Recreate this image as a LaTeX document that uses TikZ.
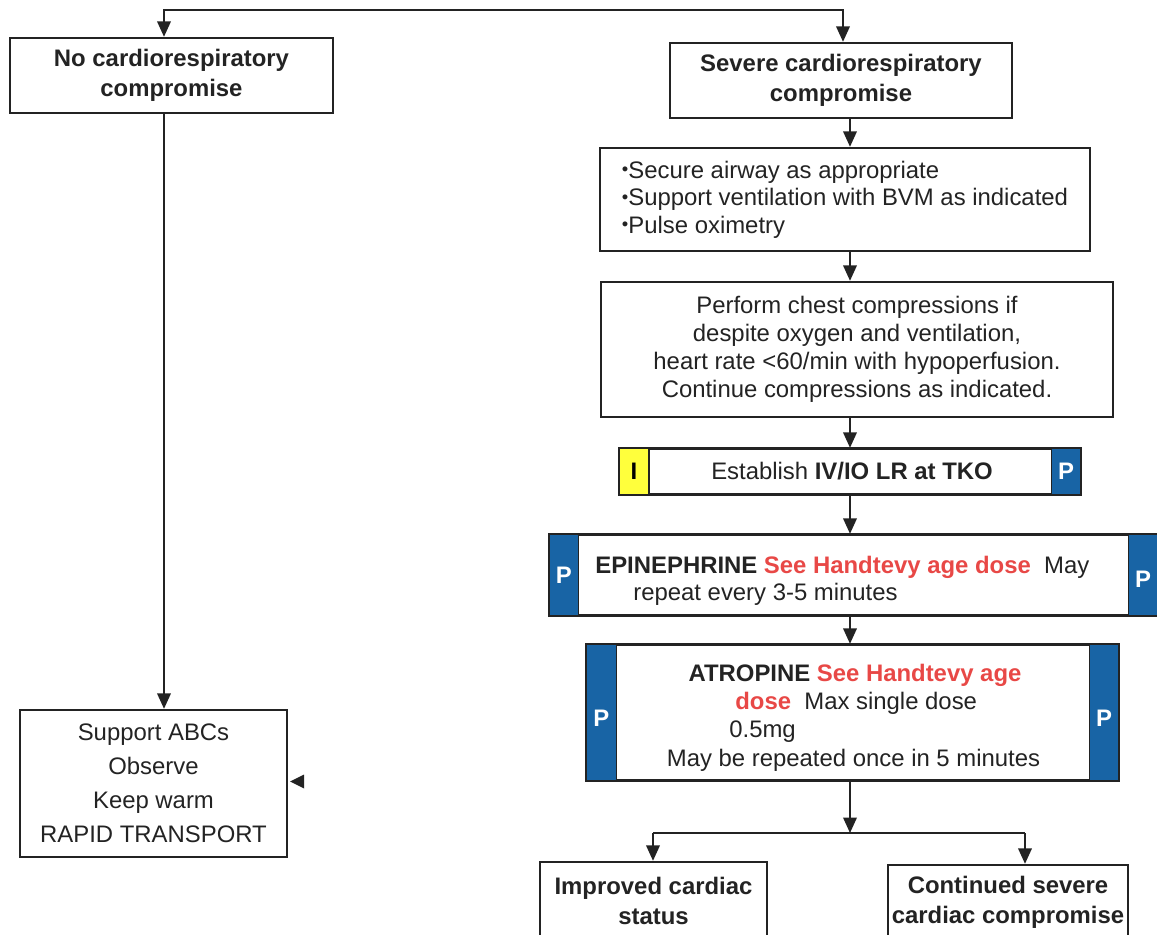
\documentclass[tikz,border=0pt]{standalone}
\usepackage{fontspec}
\setmainfont{Liberation Sans}
\usetikzlibrary{arrows.meta,calc}
\definecolor{pblue}{RGB}{24,100,165}
\definecolor{dosered}{RGB}{232,72,70}
\definecolor{ivyellow}{RGB}{255,255,60}
\definecolor{ink}{RGB}{35,35,35}
% small raised bullet for the list items
\newcommand{\itemdot}{\raisebox{1.3pt}{\fontsize{10.5}{10}\selectfont •}}

\begin{document}
\begin{tikzpicture}[x=0.02cm,y=-0.02cm,
  >={Triangle[length=3.1mm,width=2.7mm]},
  txt/.style={font=\fontsize{13.6}{16}\selectfont, text=ink},
  box/.style={draw=ink, line width=1.35pt, inner sep=0pt, align=center, txt},
  head/.style={font=\fontsize{13.6}{17}\selectfont\bfseries},
  flow/.style={draw=ink, line width=1.2pt, ->},
  wire/.style={draw=ink, line width=1.2pt},
  frame/.style={draw=ink, line width=1.35pt},
  ptab/.style={fill=pblue, draw=ink, line width=0.5pt},
  itab/.style={fill=ivyellow, draw=ink, line width=0.8pt},
  tabletter/.style={font=\fontsize{13.6}{16}\selectfont\bfseries, inner sep=0pt},
  line/.style={txt, inner sep=0pt},
]
\useasboundingbox (0,0) rectangle (1157,934);

% ---- boxes ----
\node[box, head, minimum width=6.46cm, minimum height=1.5cm] (noc) at (171.5,75.5)
  {No cardiorespiratory\\compromise};
\node[box, head, minimum width=6.84cm, minimum height=1.5cm] (sev) at (841,80.5)
  {Severe cardiorespiratory\\compromise};
\node[box, align=left, minimum width=9.8cm, minimum height=2.06cm,
      font=\fontsize{13.6}{15.6}\selectfont] (sup) at (845,199.5)
  {\itemdot Secure airway as appropriate\\\itemdot Support ventilation with BVM as indicated\\\itemdot Pulse oximetry};
\node[box, minimum width=10.24cm, minimum height=2.7cm,
      font=\fontsize{13.6}{15.9}\selectfont] (cpr) at (857,349.5)
  {Perform chest compressions if\\despite oxygen and ventilation,\\heart rate <60/min with hypoperfusion.\\Continue compressions as indicated.};
\node[box, minimum width=9.2cm, minimum height=0.9cm] (iv) at (850,471.5) {};
\node[box, minimum width=12.14cm, minimum height=1.6cm] (epi) at (853.5,575) {};
\node[box, minimum width=10.62cm, minimum height=2.7cm] (atr) at (852.5,712.5) {};
\node[box, minimum width=5.34cm, minimum height=2.94cm,
      font=\fontsize{13.6}{19.3}\selectfont] (abc) at (153.5,783.5)
  {Support ABCs\\Observe\\Keep warm\\RAPID TRANSPORT};
\node[box, head, minimum width=4.54cm, minimum height=1.56cm] (imp) at (653.5,901)
  {Improved cardiac\\status};
\node[box, head, minimum width=4.8cm, minimum height=1.5cm] (con) at (1008,902.5)
  {Continued severe\\cardiac compromise};

% ---- IV/IO box with provider tabs ----
\filldraw[itab] (iv.north west) rectangle ($(iv.south west)+(30,0)$);
\filldraw[ptab] ($(iv.north east)+(-30,0)$) rectangle (iv.south east);
\draw[frame] (iv.north west) rectangle (iv.south east);
\node[tabletter, text=black] (ivI) at ($(iv.west)+(15,0)$) {I};
\node[tabletter, text=white] (ivP) at ($(iv.east)+(-15,0)$) {P};
\node[line, anchor=base] (ivtext) at (852,479) {Establish \textbf{IV/IO LR at TKO}};

% ---- epinephrine box ----
\filldraw[ptab] (epi.north west) rectangle ($(epi.south west)+(30,0)$);
\filldraw[ptab] ($(epi.north east)+(-30,0)$) rectangle (epi.south east);
\draw[frame] (epi.north west) rectangle (epi.south east);
\node[tabletter, text=white] (epiPl) at ($(epi.west)+(15,0)$) {P};
\node[tabletter, text=white] (epiPr) at ($(epi.east)+(-15,4)$) {P};
\node[line, anchor=base west] (epi1) at (595,573)
  {\textbf{EPINEPHRINE} \textcolor{dosered}{\textbf{See Handtevy age dose}}\ \ May};
\node[line, anchor=base west] (epi2) at (633,600) {repeat every 3-5 minutes};

% ---- atropine box ----
\filldraw[ptab] (atr.north west) rectangle ($(atr.south west)+(31,0)$);
\filldraw[ptab] ($(atr.north east)+(-30,0)$) rectangle (atr.south east);
\draw[frame] (atr.north west) rectangle (atr.south east);
\node[tabletter, text=white] (atrPl) at ($(atr.west)+(15.5,6)$) {P};
\node[tabletter, text=white] (atrPr) at ($(atr.east)+(-15,6)$) {P};
\node[line, anchor=base] (atr1) at (855,681)
  {\textbf{ATROPINE} \textcolor{dosered}{\textbf{See Handtevy age}}};
\node[line, anchor=base west] (atr2) at (735,709)
  {\textcolor{dosered}{\textbf{dose}}\ \ Max single dose};
\node[line, anchor=base west] (atr3) at (729,737) {0.5mg};
\node[line, anchor=base] (atr4) at (853.5,766) {May be repeated once in 5 minutes};

% ---- connectors ----
\coordinate (topL) at (164,10);
\coordinate (topR) at (843,10);
\coordinate (spine) at (850,0);
\coordinate (split) at (850,833);
\coordinate (splitL) at (653,833);
\coordinate (splitR) at (1025,833);

\draw[flow, <->] (topL |- noc.north) -- (topL) -- (topR) -- (topR |- sev.north);
\draw[flow] (noc.south -| topL) -- (abc.north -| topL);
\draw[flow] (sev.south -| spine) -- (sup.north -| spine);
\draw[flow] (sup.south -| spine) -- (cpr.north -| spine);
\draw[flow] (cpr.south -| spine) -- (iv.north -| spine);
\draw[flow] (iv.south -| spine) -- (epi.north -| spine);
\draw[flow] (epi.south -| spine) -- (atr.north -| spine);
\draw[flow] (atr.south -| spine) -- (split);
\draw[wire] (splitL) -- (splitR);
\draw[flow] (splitL) -- (splitL |- imp.north);
\draw[flow] (splitR) -- (splitR |- con.north);

% loose arrowhead at the right side of the supportive-care box
\fill[ink] ($(abc.east)+(2,-2)$) -- ++(14,-7) -- ++(0,14) -- cycle;
\end{tikzpicture}
\end{document}
